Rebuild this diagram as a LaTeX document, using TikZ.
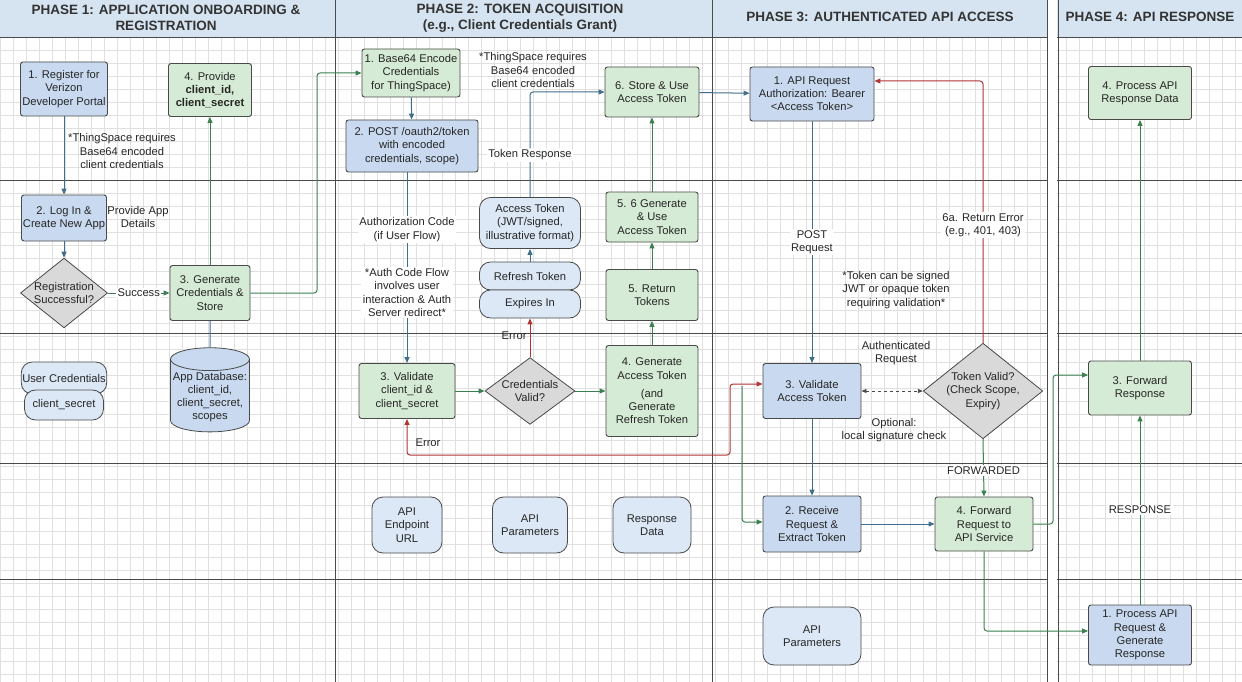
\documentclass[tikz,border=0pt]{standalone}
\usepackage{fontspec}
\setmainfont{Liberation Sans}
\usetikzlibrary{shapes.geometric,shapes.misc,arrows.meta}
\definecolor{bfill}{HTML}{C9DAF0}
\definecolor{cfill}{HTML}{DCE8F6}
\definecolor{gfill}{HTML}{D5EBD5}
\definecolor{dfill}{HTML}{D9D9D9}
\definecolor{hfill}{HTML}{D6E4F2}
\definecolor{bline}{HTML}{3F6F8C}
\definecolor{gline}{HTML}{3A8050}
\definecolor{rline}{HTML}{B03535}
\definecolor{edge}{HTML}{4A4A4A}
\begin{document}
\begin{tikzpicture}[x=1pt,y=-1pt,
 every node/.style={font=\fontsize{11.2}{13.2}\selectfont,align=center,inner sep=1pt,text=black!85},
 box/.style={draw=edge,line width=0.9pt,rounded corners=2.5pt,minimum width=#1},
 bbox/.style={box=#1,fill=bfill},
 gbox/.style={box=#1,fill=gfill},
 dia/.style={diamond,draw=edge,fill=dfill,line width=0.8pt,aspect=1.25,inner sep=0pt},
 pill/.style={rectangle,rounded corners=11pt,draw=edge,fill=cfill,line width=0.8pt,inner sep=1pt},
 lab/.style={fill=white,inner sep=1.5pt},
 ba/.style={draw=bline,line width=1pt,-{Triangle[length=6pt,width=5pt]}},
 ga/.style={draw=gline,line width=1pt,-{Triangle[length=6pt,width=5pt]}},
 ra/.style={draw=rline,line width=1pt,-{Triangle[length=6pt,width=5pt]}},
 hdr/.style={font=\fontsize{13.5}{16}\selectfont\bfseries,text=black!80}]
\useasboundingbox (0,0) rectangle (1242,682);
\fill[white] (0,0) rectangle (1242,682);
% grid
\foreach \x in {0,13,...,1242} \draw[black!12,line width=0.4pt] (\x,37)--(\x,682);
\foreach \y in {37,50,...,682} \draw[black!12,line width=0.4pt] (0,\y)--(1242,\y);
% header
\fill[hfill] (0,0) rectangle (1242,37);
\draw[edge,line width=0.8pt] (0,37)--(1242,37);
\foreach \y in {180,333,463,579} \draw[edge,line width=0.8pt] (0,\y)--(1242,\y);
\foreach \x in {335,712,1047,1058} \draw[edge,line width=0.8pt] (\x,0)--(\x,682);
\fill[white] (1048,0) rectangle (1057,682);
\draw[edge,line width=0.8pt] (1047,0)--(1047,682) (1058,0)--(1058,682);
\node[hdr] (h1) at (166,18) {PHASE 1: APPLICATION ONBOARDING \&\\REGISTRATION};
\node[hdr] (h2) at (520,18) {PHASE 2: TOKEN ACQUISITION\\(e.g., Client Credentials Grant)};
\node[hdr] (h3) at (880,17) {PHASE 3: AUTHENTICATED API ACCESS};
\node[hdr] (h4) at (1150,17) {PHASE 4: API RESPONSE};
% phase 1
\node[bbox=87,minimum height=54] (reg) at (64,89) {1. Register for\\Verizon\\Developer Portal};
\node[bbox=85,minimum height=46] (login) at (64,218) {2. Log In \&\\Create New App};
\node[dia,minimum width=84,minimum height=68] (regok) at (64,293) {Registration\\Successful?};
\node[gbox=80,minimum height=55] (gen3) at (210,293) {3. Generate\\Credentials \&\\Store};
\node[gbox=83,minimum height=53] (prov4) at (210,90) {4. Provide\\\textbf{client\_id,}\\\textbf{client\_secret}};
\node[cylinder,shape border rotate=90,aspect=0.3,draw=edge,fill=bfill,line width=0.8pt,minimum width=79,minimum height=82,inner sep=1pt] (db) at (210,397) {App Database:\\client\_id,\\client\_secret,\\scopes};
\node[pill,minimum width=79,minimum height=32] (ucred) at (64,378) {User Credentials};
\node[pill,minimum width=79,minimum height=30] (csec) at (64,405) {client\_secret};
\node (n1) at (122,151) {*ThingSpace requires\\Base64 encoded\\client credentials};
\node (pad) at (138,217) {Provide App\\Details};
% phase 2
\node[gbox=98,minimum height=48] (b64) at (411,73) {1. Base64 Encode\\Credentials\\for ThingSpace)};
\node[bbox=132,minimum height=52] (post2) at (412,146) {2. POST /oauth2/token\\with encoded\\credentials, scope)};
\node (n2) at (533,70) {*ThingSpace requires\\Base64 encoded\\client credentials};
\node[gbox=94,minimum height=50] (store6) at (652,92) {6. Store \& Use\\Access Token};
\node[pill,minimum width=101,minimum height=51] (atok) at (530,223) {Access Token\\(JWT/signed,\\illustrative format)};
\node[pill,minimum width=101,minimum height=28] (rtok) at (530,276) {Refresh Token};
\node[pill,minimum width=101,minimum height=28] (exp) at (530,304) {Expires In};
\node[gbox=92,minimum height=50] (gen56) at (652,217) {5. 6 Generate\\\& Use\\Access Token};
\node[gbox=92,minimum height=51] (ret5) at (652,295) {5. Return\\Tokens};
\node[gbox=92,minimum height=91] (gen4) at (652,391) {4. Generate\\Access Token\\[5pt](and\\Generate\\Refresh Token};
\node[gbox=96,minimum height=55] (val3) at (407,391) {3. Validate\\client\_id \&\\client\_secret};
\node[dia,minimum width=90,minimum height=66] (cval) at (530,391) {Credentials\\Valid?};
\node[pill,minimum width=70,minimum height=56] (ep) at (407,525) {API\\Endpoint\\URL};
\node[pill,minimum width=75,minimum height=56] (par) at (530,525) {API\\Parameters};
\node[pill,minimum width=78,minimum height=56] (rd) at (652,525) {Response\\Data};
% phase 3
\node[bbox=124,minimum height=54] (apireq) at (812,94) {1. API Request\\Authorization: Bearer\\<Access Token>};
\node[bbox=98,minimum height=55] (valtok) at (812,391) {3. Validate\\Access Token};
\node[dia,minimum width=100,minimum height=78] (tval) at (983,391) {Token Valid?\\(Check Scope,\\Expiry)};
\node[bbox=98,minimum height=56] (recv) at (812,524) {2. Receive\\Request \&\\Extract Token};
\node[gbox=98,minimum height=54] (fwd4) at (984,524) {4. Forward\\Request to\\API Service};
\node[pill,minimum width=98,minimum height=58] (par2) at (812,636) {API\\Parameters};
\node (n3) at (896,290) {*Token can be signed\\JWT or opaque token\\requiring validation*};
\node (ar) at (896,353) {Authenticated\\Request};
\node (opt) at (894,430) {Optional:\\local signature check};
% phase 4
\node[gbox=103,minimum height=53] (proc4) at (1140,93) {4. Process API\\Response Data};
\node[gbox=103,minimum height=54] (fres) at (1140,388) {3. Forward\\Response};
\node[bbox=103,minimum height=60] (proc1) at (1140,635) {1. Process API\\Request \&\\Generate\\Response};
% edges phase 1
\draw[ba] (reg) -- (login);
\draw[ba] (login) -- (regok);
\draw[ga] (regok) -- node[lab]{Success} (gen3);
\draw[ga] (gen3) -- (prov4);
\draw[bline,line width=1pt] (db) -- (gen3);
\draw[ga,rounded corners=3pt] (gen3.east) -- (317,293) -- (317,73) -- (b64.west);
% phase 2
\draw[ba] (b64) -- (post2);
\draw[ba] (post2.south -| 407,0) -- node[lab,pos=0.3]{Authorization Code\\(if User Flow)} node[lab,pos=0.63]{*Auth Code Flow\\involves user\\interaction \& Auth\\Server redirect*} (val3.north);
\draw[ga] (val3) -- (cval);
\draw[ga] (cval) -- (gen4);
\draw[ga] (gen4) -- (ret5);
\draw[ga] (ret5) -- (gen56);
\draw[ga] (gen56) -- (store6);
\draw[ra] (cval.north) -- node[left=2pt,pos=0.55]{Error} (exp.south);
\draw[ba] (rtok) -- (atok);
\draw[ba,rounded corners=3pt] (atok.north) -- node[lab,pos=0.4]{Token Response} (530,92) -- (store6.west);
% phase 3
\draw[ba] (store6) -- (apireq);
\draw[ba] (apireq) -- node[lab,pos=0.5]{POST\\Request} (valtok);
\draw[dashed,draw=edge,line width=0.8pt,{Triangle[length=5pt,width=4pt]}-{Triangle[length=5pt,width=4pt]}] (valtok) -- (tval);
\draw[ra,rounded corners=3pt] (tval.north) -- node[lab,pos=0.45]{6a. Return Error\\(e.g., 401, 403)} (983,81) -- (apireq.east |- 0,81);
\draw[ga] (tval.south) -- node[lab,pos=0.55]{FORWARDED} (fwd4.north);
\draw[ba] (valtok) -- (recv);
\draw[ba] (recv) -- (fwd4);
\coordinate (rc) at (730,455);
\draw[rline,line width=1pt,rounded corners=3pt,{Triangle[length=6pt,width=5pt]}-{Triangle[length=6pt,width=5pt]}] (val3.south) -- (407,455) -- (rc) -- (730,384) -- (valtok.west |- 0,384);
\node (err2) at (428,443) {Error};
\coordinate (gc) at (742,386);
\draw[ga,rounded corners=3pt] (gc) -- (742,522) -- (recv.west |- 0,522);
\draw[ga,rounded corners=3pt] (fwd4.east) -- (1053,524) -- (1053,375) -- (fres.west |- 0,375);
\draw[ga,rounded corners=3pt] (fwd4.south) -- (984,631) -- (proc1.west |- 0,631);
% phase 4
\draw[ga] (proc1) -- node[lab]{RESPONSE} (fres);
\draw[ga] (fres) -- (proc4);
\end{tikzpicture}
\end{document}
